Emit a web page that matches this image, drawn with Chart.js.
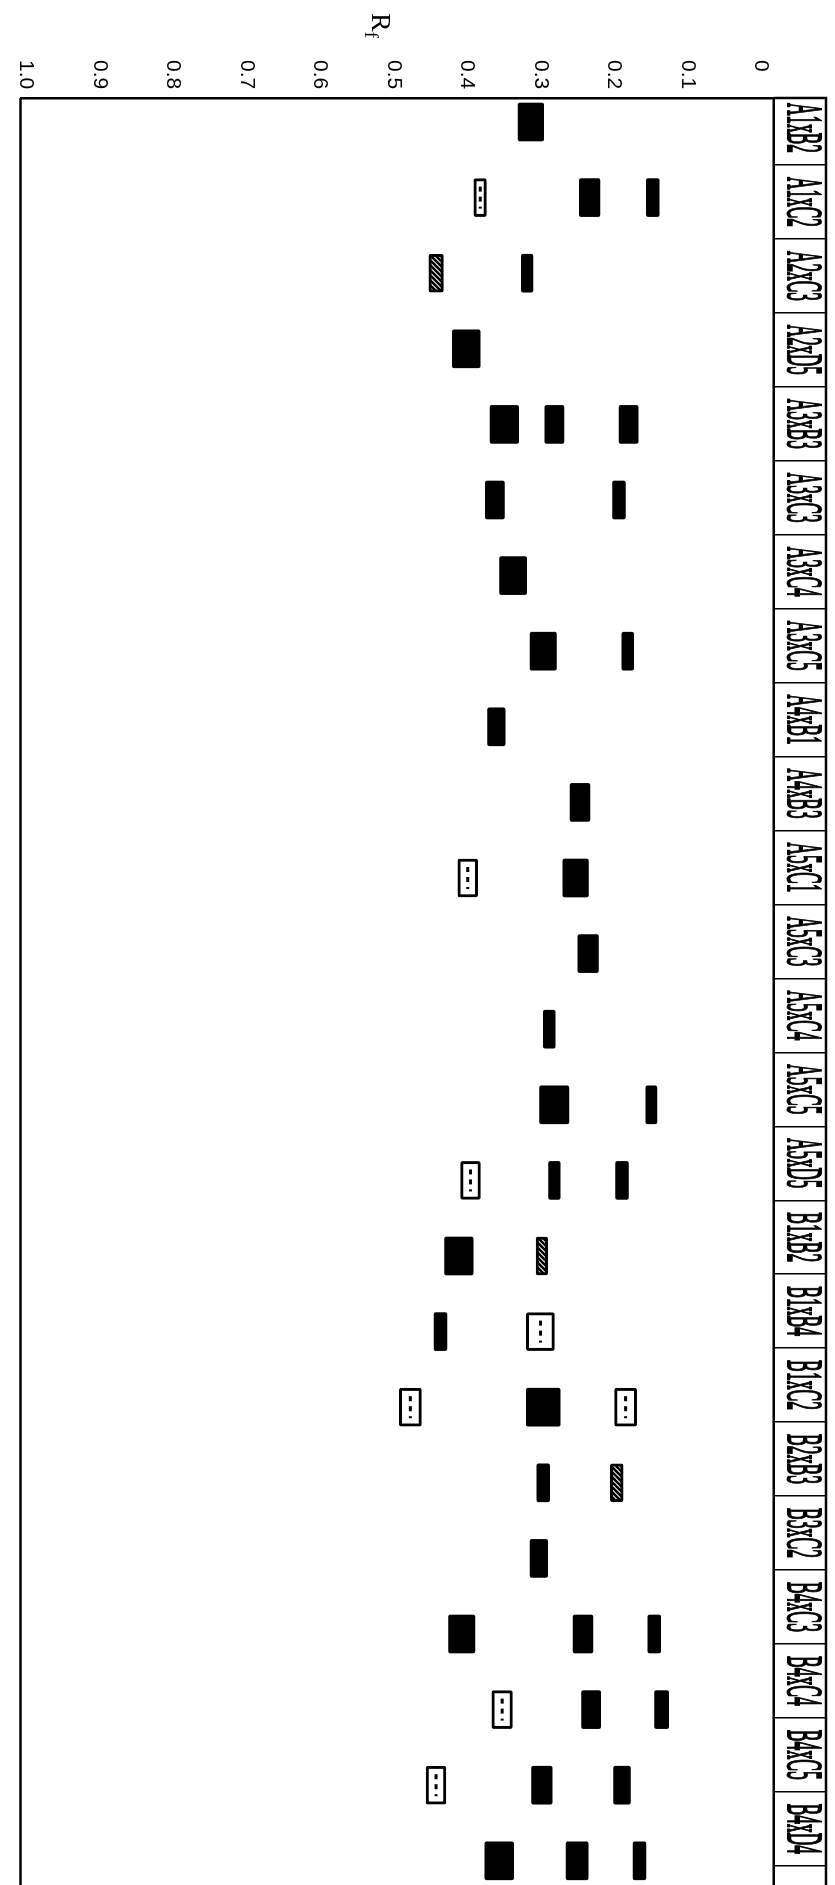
<!DOCTYPE html>
<html>
<head>
<meta charset="utf-8">
<title>Rf band patterns of crosses</title>
<script src="https://cdn.jsdelivr.net/npm/chart.js@4/dist/chart.umd.min.js"></script>
<style>
  html, body { margin: 0; padding: 0; background: #fff; overflow: hidden; }
  /* The figure is laid out landscape and turned a quarter turn clockwise onto the page */
  #page {
    position: absolute; left: 0; top: 0;
    width: 1885px; height: 835px;
    transform-origin: 0 0;
    transform: translate(835px, 0) rotate(90deg);
    background: #fff;
  }
  #page canvas { position: absolute; left: 0; top: 0; }
  #rf {
    position: absolute; left: 13px; top: 440px;
    font: 28px 'Liberation Serif', serif; line-height: 28px; color: #000;
  }
  #rf sub { font-size: 19px; vertical-align: -7px; }
</style>
</head>
<body>
<div id="page">
  <canvas id="chart" width="1885" height="835"></canvas>
  <div id="rf">R<sub>f</sub></div>
</div>
<script>
// Lanes (crosses), left to right
const crosses = ['A1xB2','A1xC2','A2xC3','A2xD5','A3xB3','A3xC3','A3xC4','A3xC5',
                 'A4xB1','A4xB3','A5xC1','A5xC3','A5xC4','A5xC5','A5xD5','B1xB2',
                 'B1xB4','B1xC2','B2xB3','B3xC2','B4xC3','B4xC4','B4xC5','B4xD4'];

// Rf scale ticks
const rfTicks = [0, 0.1, 0.2, 0.3, 0.4, 0.5, 0.6, 0.7, 0.8, 0.9, 1.0];

// Strong (solid) bands: lane index, Rf at band centre, band spread in Rf
const darkLane = [0, 1, 1, 2, 3, 4, 4, 4, 5, 5, 6, 7, 7, 8, 9, 10, 11, 12, 13, 13,
                  14, 14, 15, 16, 17, 18, 19, 20, 20, 20, 21, 21, 22, 22, 23, 23, 23];
const darkRf   = [0.313, 0.233, 0.147, 0.318, 0.401, 0.349, 0.281, 0.180, 0.362, 0.193,
                  0.337, 0.296, 0.181, 0.360, 0.246, 0.252, 0.235, 0.288, 0.281, 0.149,
                  0.281, 0.189, 0.411, 0.436, 0.296, 0.296, 0.302, 0.407, 0.242, 0.145,
                  0.231, 0.135, 0.298, 0.189, 0.356, 0.250, 0.165];
const darkSpan = [0.035, 0.028, 0.0175, 0.016, 0.038, 0.039, 0.026, 0.026, 0.026, 0.0175,
                  0.037, 0.036, 0.016, 0.024, 0.027, 0.035, 0.028, 0.016, 0.040, 0.015,
                  0.016, 0.0175, 0.039, 0.0175, 0.046, 0.0175, 0.024, 0.036, 0.027, 0.0175,
                  0.026, 0.019, 0.028, 0.023, 0.039, 0.030, 0.0175];

// Faint (open) bands
const faintLane = [1, 10, 14, 16, 17, 17, 21, 22];
const faintRf   = [0.382, 0.399, 0.395, 0.300, 0.477, 0.184, 0.352, 0.442];
const faintSpan = [0.017, 0.027, 0.027, 0.038, 0.030, 0.030, 0.028, 0.027];

// Medium (hatched) bands
const hatchLane = [2, 15, 18];
const hatchRf   = [0.442, 0.298, 0.196];
const hatchSpan = [0.020, 0.016, 0.0175];

function bands(lanes, rf, span) {
  return lanes.map((lane, k) => ({ x: lane, y: [rf[k] - span[k] / 2, rf[k] + span[k] / 2] }));
}

function hatchPattern() {
  const c = document.createElement('canvas');
  c.width = 5; c.height = 5;
  const g = c.getContext('2d');
  g.fillStyle = '#fff'; g.fillRect(0, 0, 5, 5);
  g.strokeStyle = '#000'; g.lineWidth = 2.6;
  g.beginPath();
  g.moveTo(-1, 6); g.lineTo(6, -1);
  g.moveTo(-1, 1); g.lineTo(1, -1);
  g.moveTo(4, 6); g.lineTo(6, 4);
  g.stroke();
  return g.createPattern(c, 'repeat');
}

// Dotted centre line inside the open bands
const faintCentre = {
  id: 'faintCentre',
  afterDatasetsDraw(chart) {
    const ctx = chart.ctx;
    const meta = chart.getDatasetMeta(1);
    ctx.save();
    ctx.strokeStyle = '#000';
    ctx.lineWidth = 3;
    ctx.setLineDash([5, 5]);
    meta.data.forEach(el => {
      const p = el.getProps(['x', 'y', 'base', 'width'], true);
      const mid = (p.y + p.base) / 2;
      ctx.beginPath();
      ctx.moveTo(p.x - p.width / 2 + 8, mid);
      ctx.lineTo(p.x + p.width / 2 - 8, mid);
      ctx.stroke();
    });
    ctx.restore();
  }
};

// Frame of the plot and the lane-name strip, plus the lane names
const frameAndLanes = {
  id: 'frameAndLanes',
  afterDraw(chart) {
    const ctx = chart.ctx;
    const area = chart.chartArea;
    const ls = chart.scales.lanes;
    const stripTop = area.top - 52;
    ctx.save();
    ctx.strokeStyle = '#000';
    ctx.lineWidth = 2.5;
    ctx.beginPath();
    ctx.moveTo(area.left, area.bottom);
    ctx.lineTo(chart.width, area.bottom);
    ctx.moveTo(area.left, area.top);
    ctx.lineTo(area.left, stripTop);
    ctx.lineTo(chart.width, stripTop);
    ctx.stroke();

    ctx.fillStyle = '#000';
    ctx.strokeStyle = '#000';
    ctx.lineWidth = 1.8;
    ctx.font = "50px 'Liberation Serif'";
    ctx.textAlign = 'center';
    ctx.textBaseline = 'alphabetic';
    crosses.forEach((name, i) => {
      const u = ls.getPixelForValue(i);
      ctx.fillText(name, u, area.top - 14, 50);
      ctx.strokeText(name, u, area.top - 14, 50);
    });
    ctx.restore();
  }
};

new Chart(document.getElementById('chart'), {
  type: 'bar',
  data: {
    datasets: [
      {
        label: 'strong',
        data: bands(darkLane, darkRf, darkSpan),
        backgroundColor: '#000',
        borderWidth: 0,
        borderRadius: 2,
        borderSkipped: false,
        grouped: false,
        barThickness: 38
      },
      {
        label: 'faint',
        data: bands(faintLane, faintRf, faintSpan),
        backgroundColor: '#fff',
        borderColor: '#000',
        borderWidth: 3,
        borderRadius: 2,
        borderSkipped: false,
        grouped: false,
        barThickness: 38
      },
      {
        label: 'medium',
        data: bands(hatchLane, hatchRf, hatchSpan),
        backgroundColor: hatchPattern(),
        borderColor: '#000',
        borderWidth: 3,
        borderRadius: 2,
        borderSkipped: false,
        grouped: false,
        barThickness: 38
      }
    ]
  },
  options: {
    responsive: false,
    animation: false,
    devicePixelRatio: 1,
    layout: { padding: { left: 60, top: 0, right: 0, bottom: 12 } },
    plugins: {
      legend: { display: false },
      tooltip: { enabled: false }
    },
    scales: {
      // lane positions of the bands on the gel
      x: {
        type: 'linear',
        position: 'top',
        display: false,
        offset: false,
        min: -0.3175,
        max: 23.32
      },
      // lane-name strip along the top edge
      lanes: {
        axis: 'x',
        type: 'linear',
        position: 'top',
        offset: false,
        min: -0.406,
        max: 23.76,
        afterBuildTicks: s => { s.ticks = crosses.map((c, i) => ({ value: i })); },
        afterFit: s => { s.height = 61; },
        ticks: { display: false },
        grid: {
          display: true,
          offset: true,
          drawOnChartArea: false,
          drawTicks: true,
          tickLength: 52,
          color: '#000',
          lineWidth: 1.5
        },
        border: { display: true, color: '#000', width: 2.5 }
      },
      y: {
        type: 'linear',
        position: 'left',
        reverse: true,
        offset: false,
        min: -0.018,
        max: 1.0075,
        afterBuildTicks: s => { s.ticks = rfTicks.map(v => ({ value: v })); },
        afterFit: s => { s.width = 38; },
        ticks: {
          crossAlign: 'far',
          padding: 8,
          color: '#000',
          font: { family: "'Liberation Sans'", size: 21 },
          callback: v => (v === 0 ? '0' : v.toFixed(1))
        },
        grid: { display: true, drawOnChartArea: false, drawTicks: false },
        border: { display: true, color: '#000', width: 2.5 }
      }
    }
  },
  plugins: [faintCentre, frameAndLanes]
});
</script>
</body>
</html>
